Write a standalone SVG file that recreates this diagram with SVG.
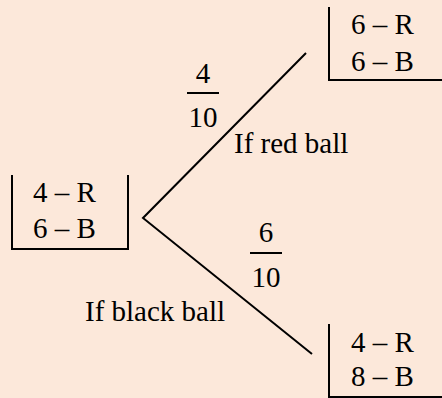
<svg xmlns="http://www.w3.org/2000/svg" width="442" height="398" viewBox="0 0 442 398">
<style>
text{font-family:"Liberation Serif","Times New Roman",serif;font-size:29px;fill:#000}
.c{text-anchor:middle}
.ln{stroke:#000;stroke-width:2;fill:none}
</style>
<rect width="442" height="398" fill="#FCE8DA"/>
<g id="root">
<path class="ln" d="M12,175 V249 H128 V175"/>
<text x="33" y="202">4 – R</text>
<text x="33" y="238">6 – B</text>
</g>
<g id="red">
<path class="ln" d="M329,7 V80 H442"/>
<text x="351" y="34">6 – R</text>
<text x="351" y="71">6 – B</text>
</g>
<g id="black">
<path class="ln" d="M329,324 V397 H442"/>
<text x="351" y="352">4 – R</text>
<text x="351" y="386">8 – B</text>
</g>
<g id="connectors">
<path class="ln" d="M306,53 L143,218 L312,354"/>
<text class="c" x="203" y="83">4</text>
<line class="ln" x1="187" y1="93" x2="219" y2="93"/>
<text class="c" x="203" y="127">10</text>
<text x="234" y="153">If red ball</text>
<text class="c" x="266" y="242">6</text>
<line class="ln" x1="250" y1="253" x2="282" y2="253"/>
<text class="c" x="266" y="287">10</text>
<text x="85" y="321">If black ball</text>
</g>
</svg>
